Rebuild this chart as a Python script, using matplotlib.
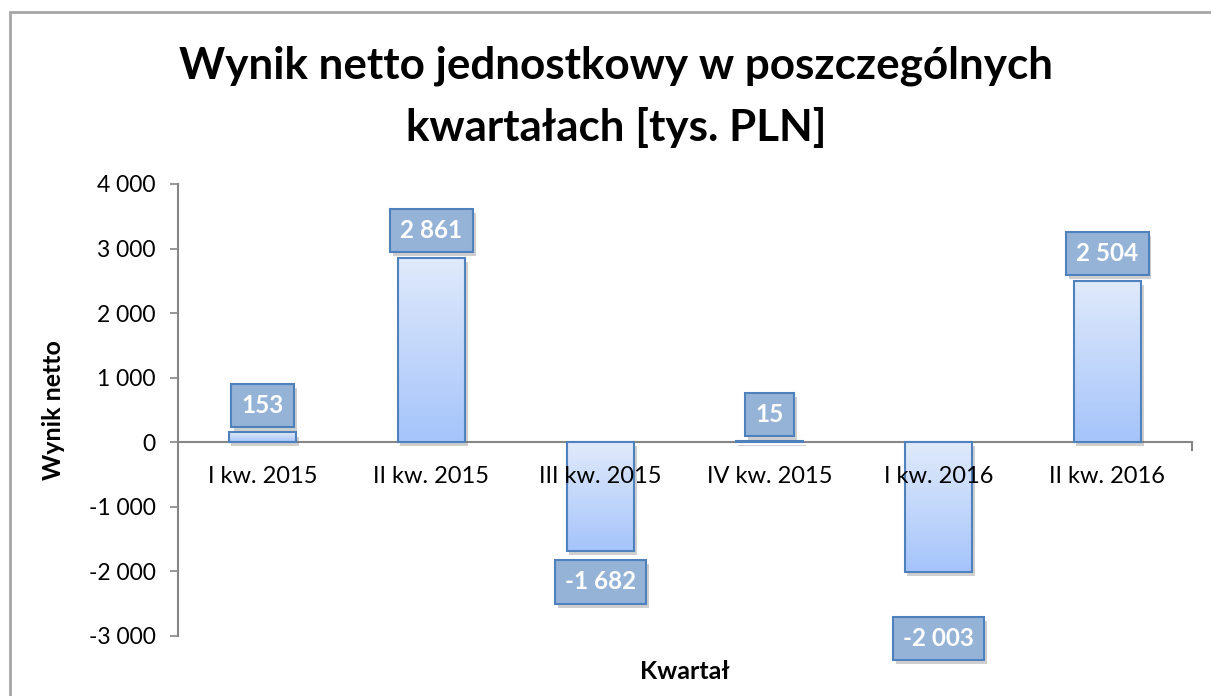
import numpy as np
import matplotlib
matplotlib.use("Agg")
import matplotlib.pyplot as plt
import matplotlib.patheffects as pe
from matplotlib.patches import Rectangle
from matplotlib.ticker import FuncFormatter, MultipleLocator

## Data
quarters = ["I kw. 2015", "II kw. 2015", "III kw. 2015", "IV kw. 2015", "I kw. 2016", "II kw. 2016"]
net_result = [153, 2861, -1682, 15, -2003, 2504]
label_shift_px = [27, 27, 31, 27, 67, 27]  # Excel pushed the -2003 label further down

plt.rcParams["font.family"] = ["Lato", "DejaVu Sans"]

fig = plt.figure(figsize=(12.11, 6.96), dpi=100)
ax = fig.add_axes([178 / 1211, 60 / 696, 1014 / 1211, 452 / 696])

x = np.arange(len(quarters))
bar_w = 0.4
edge_col = "#4F81BD"
shadow = [pe.SimplePatchShadow(offset=(2, -3), shadow_rgbFace="#777777", alpha=0.35), pe.Normal()]

# shadow layer, then gradient fill, then outline
grad = np.linspace(0, 1, 256).reshape(-1, 1)
cmap = matplotlib.colors.LinearSegmentedColormap.from_list("bar", ["#E0EAFB", "#A5C4FA"])
under = ax.bar(x, net_result, width=bar_w, color="white", linewidth=0, zorder=1.6)
for b in under:
    b.set_path_effects(shadow)
bars = ax.bar(x, net_result, width=bar_w, color="none", edgecolor=edge_col, linewidth=1.5, zorder=3)
for b in bars:
    x0, y0 = b.get_x(), b.get_y()
    w, h = b.get_width(), b.get_height()
    lo, hi = min(y0, y0 + h), max(y0, y0 + h)
    im = ax.imshow(grad, cmap=cmap, aspect="auto", extent=(x0, x0 + w, lo, hi), origin="upper", zorder=2)
    im.set_clip_path(b)

# data labels
for xi, v, s in zip(x, net_result, label_shift_px):
    off = s / 100 * 72 if v >= 0 else -s / 100 * 72
    ann = ax.annotate(f"{v:,}".replace(",", " "), xy=(xi, v), xytext=(0, off), textcoords="offset points",
                      ha="center", va="center", fontsize=17.5, fontweight="bold", color="white", zorder=6,
                      bbox=dict(boxstyle="square,pad=0.42", fc="#95B3D7", ec=edge_col, lw=1.5))
    ann.get_bbox_patch().set_path_effects(shadow)

## Axes styling
ax.set_xlim(-0.5, len(quarters) - 0.5)
ax.set_ylim(-3000, 4000)
ax.yaxis.set_major_locator(MultipleLocator(1000))
ax.yaxis.set_major_formatter(FuncFormatter(lambda v, p: f"{v:,.0f}".replace(",", " ")))
ax.set_xticks(x)
ax.set_xticklabels(quarters)
ax.xaxis.set_zorder(5)

for side in ["top", "right"]:
    ax.spines[side].set_visible(False)
ax.spines["bottom"].set_position(("data", 0))
ax.spines["left"].set_color("#868686")
ax.spines["bottom"].set_color("#868686")
ax.spines["left"].set_linewidth(1.5)
ax.spines["bottom"].set_linewidth(1.5)
ax.spines["bottom"].set_zorder(1)

ax.tick_params(axis="y", length=6, width=1.2, color="#868686", labelsize=16.5, pad=10)
ax.tick_params(axis="x", length=0, labelsize=17, pad=17)
ax.plot([len(quarters) - 0.5] * 2, [0, -120], color="#868686", lw=1.5, clip_on=False)

ax.set_ylabel("Wynik netto", fontsize=18, fontweight="bold")
ax.yaxis.set_label_coords(-0.111, 0.5)
ax.set_xlabel("Kwartał", fontsize=18, fontweight="bold")
ax.xaxis.set_label_coords(0.5, -0.053)

fig.text(616 / 1211, 1 - 97 / 696, "Wynik netto jednostkowy w poszczególnych\nkwartałach [tys. PLN]",
         ha="center", va="center", fontsize=31.7, fontweight="bold", linespacing=1.62)

# chart area border
fig.patches.append(Rectangle((10 / 1211, -0.1), 1.2, 1 - 12 / 696 + 0.1, transform=fig.transFigure,
                             fill=False, ec="#A6A6A6", lw=2))

fig.savefig("out.png", dpi=100)
